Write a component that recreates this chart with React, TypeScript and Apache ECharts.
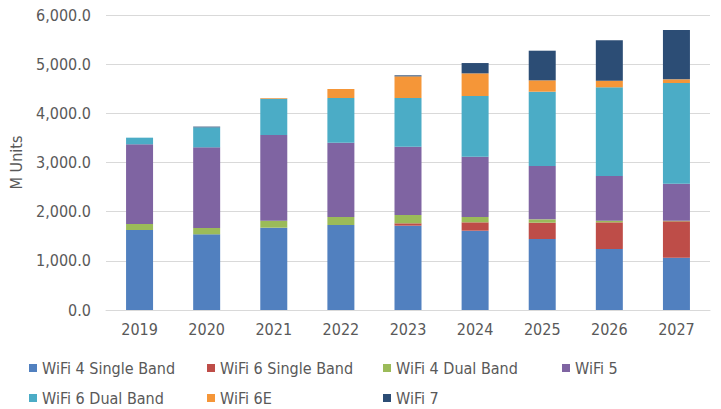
import React, { useEffect, useRef } from "react";
import * as echarts from "echarts";

const years = ["2019", "2020", "2021", "2022", "2023", "2024", "2025", "2026", "2027"];
const wifi4Single = [1627, 1539, 1674, 1729, 1715, 1613, 1444, 1241, 1064];
const wifi6Single = [0, 0, 0, 0, 48, 170, 332, 542, 739];
const wifi4Dual = [122, 129, 142, 162, 169, 108, 68, 33, 13];
const wifi5 = [1621, 1640, 1743, 1512, 1390, 1227, 1085, 909, 753];
const wifi6Dual = [135, 407, 739, 909, 990, 1234, 1511, 1804, 2048];
const wifi6E = [0, 0, 14, 183, 440, 461, 231, 135, 74];
const wifi7 = [0, 15, 0, 0, 21, 210, 603, 821, 1003];
const yTicks = [0, 1000, 2000, 3000, 4000, 5000, 6000];

const seriesDefs = [
  { name: "WiFi 4 Single Band", data: wifi4Single, color: "#5180BF" },
  { name: "WiFi 6 Single Band", data: wifi6Single, color: "#BE4D48" },
  { name: "WiFi 4 Dual Band", data: wifi4Dual, color: "#9BBB59" },
  { name: "WiFi 5", data: wifi5, color: "#7F64A2" },
  { name: "WiFi 6 Dual Band", data: wifi6Dual, color: "#4BACC6" },
  { name: "WiFi 6E", data: wifi6E, color: "#F59638" },
  { name: "WiFi 7", data: wifi7, color: "#2C4D75" },
];

const legendCols = [
  { left: 29, items: ["WiFi 4 Single Band", "WiFi 6 Dual Band"] },
  { left: 207, items: ["WiFi 6 Single Band", "WiFi 6E"] },
  { left: 383, items: ["WiFi 4 Dual Band", "WiFi 7"] },
  { left: 562, items: ["WiFi 5"] },
];

const FONT = "DejaVu Sans Condensed";
const TEXT = "#595959";

export default function App() {
  const ref = useRef<HTMLDivElement>(null);
  useEffect(() => {
    const chart = echarts.init(ref.current!, null, { renderer: "svg" });
    chart.setOption({
      animation: false,
      textStyle: { fontFamily: FONT },
      grid: { left: 104, right: 11, top: 15, bottom: 99 },
      xAxis: {
        type: "category",
        data: years,
        axisLine: { lineStyle: { color: "#d9d9d9", width: 1 } },
        axisTick: { show: false },
        axisLabel: { color: TEXT, fontSize: 16, fontFamily: FONT, margin: 11 },
      },
      yAxis: {
        type: "value",
        min: yTicks[0],
        max: yTicks[yTicks.length - 1],
        interval: 1000,
        name: "M Units",
        nameLocation: "middle",
        nameGap: 82,
        nameTextStyle: { color: TEXT, fontSize: 16, fontFamily: FONT },
        axisLine: { show: false },
        axisTick: { show: false },
        splitLine: { lineStyle: { color: "#d9d9d9", width: 1 } },
        axisLabel: {
          color: TEXT,
          fontSize: 16,
          fontFamily: FONT,
          margin: 15,
          formatter: (v: number) =>
            v.toLocaleString("en-US", { minimumFractionDigits: 1, maximumFractionDigits: 1 }),
        },
      },
      legend: legendCols.map((c) => ({
        orient: "vertical",
        left: c.left,
        top: 360,
        itemGap: 14,
        itemWidth: 8,
        itemHeight: 8,
        icon: "rect",
        padding: 0,
        data: c.items,
        textStyle: { color: TEXT, fontSize: 16, fontFamily: FONT },
      })),
      series: seriesDefs.map((s) => ({
        name: s.name,
        type: "bar",
        stack: "total",
        data: s.data,
        barWidth: 27,
        itemStyle: { color: s.color },
      })),
    });
    return () => chart.dispose();
  }, []);
  return (
    <div
      ref={ref}
      style={{ position: "fixed", left: 0, top: 0, width: 721, height: 409, background: "#fff" }}
    />
  );
}
